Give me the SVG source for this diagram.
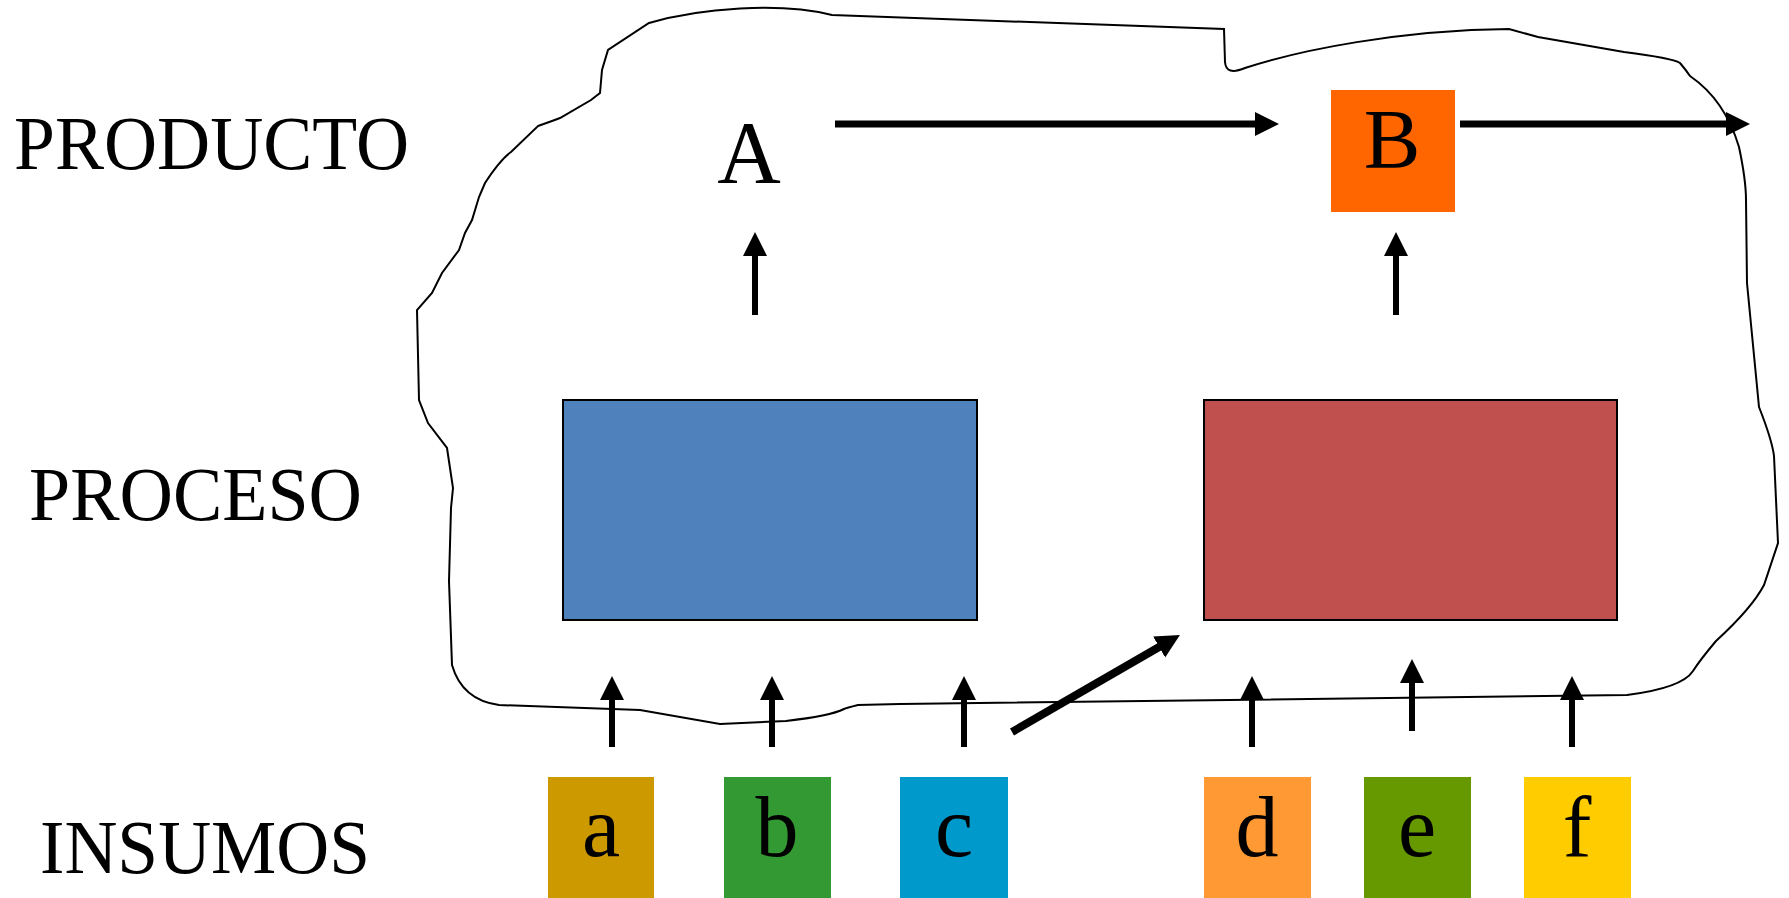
<svg xmlns="http://www.w3.org/2000/svg" width="1789" height="898" viewBox="0 0 1789 898">
<style>
.lbl{font-family:"Liberation Serif","Times New Roman",serif;font-size:76px;fill:#000}
.big{font-family:"Liberation Serif","Times New Roman",serif;fill:#000;text-anchor:middle}
.in{font-family:"Liberation Serif","Times New Roman",serif;font-size:86px;fill:#000;text-anchor:middle}
.arr{stroke:#000;fill:none;marker-end:url(#ah)}
.proc{stroke:#000;stroke-width:2}
</style>
<defs>
<marker id="ah" markerUnits="userSpaceOnUse" markerWidth="26" markerHeight="26" refX="1" refY="12" orient="auto" viewBox="0 0 26 26">
<path d="M0,0 L24,12 L0,24 z" fill="#000"/>
</marker>
</defs>
<rect width="1789" height="898" fill="#fff"/>
<g id="cloud">
<path d="M649,23 C700,8 780,2 832,15 L1224,29 L1225,62 Q1226,76 1245,68 C1300,50 1400,30 1509,29 L1538,37 L1624,52 Q1672,58 1680,63 Q1686,70 1690,76 Q1725,100 1739,147 Q1746,180 1746,200 L1747,283 L1759,407 Q1772,440 1774,456 L1778,543 L1764,585 Q1752,608 1716,641 Q1700,660 1693,671 Q1682,688 1627,695 L900,704 L858,705 Q846,708 844,709 Q830,716 786,721 L720,724 L640,710 L499,705 Q462,700 452,665 L449,581 L451,508 L453,488 L447,448 L428,423 L419,400 L417,310 L432,293 L442,273 L459,250 L465,233 L472,220 L479,197 L485,183 Q500,160 511,152 L538,126 Q555,120 560,118 L591,100 L600,93 L602,70 L608,50 Z" fill="none" stroke="#000" stroke-width="2"/>
</g>
<g id="label-producto"><text class="lbl" x="14" y="169" textLength="395" lengthAdjust="spacingAndGlyphs">PRODUCTO</text></g>
<g id="label-proceso"><text class="lbl" x="29" y="520" textLength="333" lengthAdjust="spacingAndGlyphs">PROCESO</text></g>
<g id="label-insumos"><text class="lbl" x="40" y="873" textLength="330" lengthAdjust="spacingAndGlyphs">INSUMOS</text></g>
<g id="node-A"><text class="big" x="749" y="182" font-size="88">A</text></g>
<g id="node-B"><rect x="1331" y="90" width="124" height="122" fill="#FF6600"/><text class="big" x="1392" y="168" font-size="85">B</text></g>
<g id="process-1"><rect class="proc" x="563" y="400" width="414" height="220" fill="#4F81BD"/></g>
<g id="process-2"><rect class="proc" x="1204" y="400" width="413" height="220" fill="#C0504D"/></g>
<g id="input-a"><rect x="548" y="777" width="106" height="121" fill="#CC9900"/><text class="in" x="601" y="856">a</text></g>
<g id="input-b"><rect x="724" y="777" width="107" height="121" fill="#339933"/><text class="in" x="777" y="856">b</text></g>
<g id="input-c"><rect x="900" y="777" width="108" height="121" fill="#0099CC"/><text class="in" x="954" y="856">c</text></g>
<g id="input-d"><rect x="1204" y="777" width="107" height="121" fill="#FF9933"/><text class="in" x="1257" y="856">d</text></g>
<g id="input-e"><rect x="1364" y="777" width="107" height="121" fill="#669900"/><text class="in" x="1417" y="856">e</text></g>
<g id="input-f"><rect x="1524" y="777" width="107" height="121" fill="#FFCC00"/><text class="in" x="1577" y="856">f</text></g>
<g id="connectors">
<line class="arr" x1="835" y1="124" x2="1256" y2="124" stroke-width="7"/>
<line class="arr" x1="1460" y1="124" x2="1727" y2="124" stroke-width="7"/>
<line class="arr" x1="755" y1="315" x2="755" y2="255" stroke-width="6"/>
<line class="arr" x1="1396" y1="315" x2="1396" y2="255" stroke-width="6"/>
<line class="arr" x1="612" y1="747" x2="612" y2="699" stroke-width="6"/>
<line class="arr" x1="772" y1="747" x2="772" y2="699" stroke-width="6"/>
<line class="arr" x1="964" y1="747" x2="964" y2="699" stroke-width="6"/>
<line class="arr" x1="1252" y1="747" x2="1252" y2="699" stroke-width="6"/>
<line class="arr" x1="1412" y1="731" x2="1412" y2="682" stroke-width="6"/>
<line class="arr" x1="1572" y1="747" x2="1572" y2="699" stroke-width="6"/>
<line class="arr" x1="1012" y1="732" x2="1160" y2="646.5" stroke-width="8"/>
</g>
</svg>
